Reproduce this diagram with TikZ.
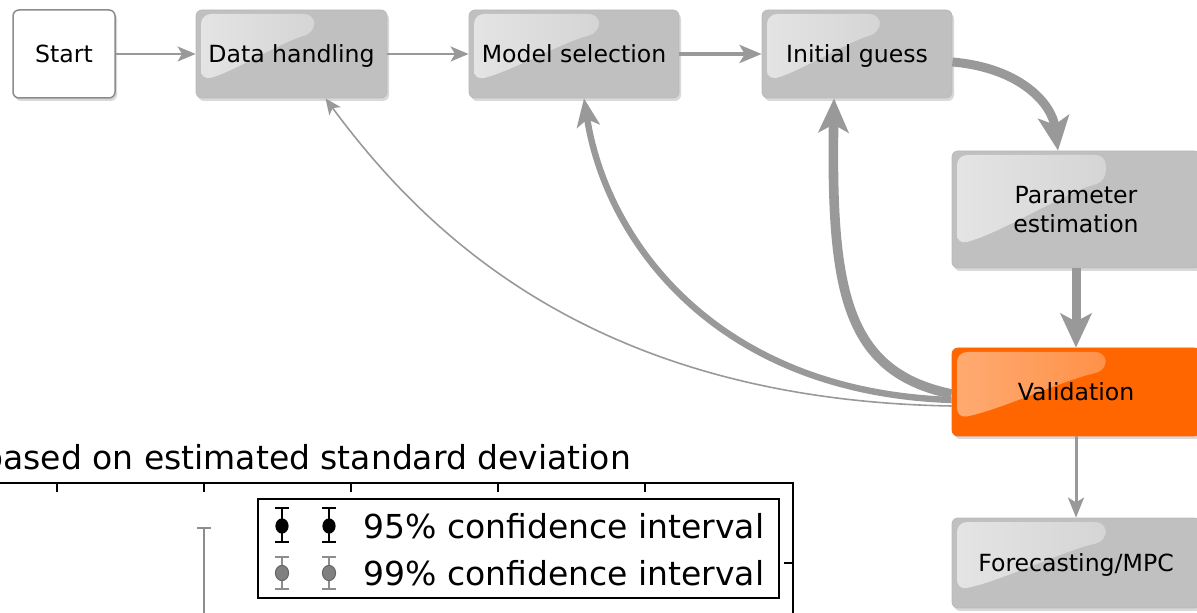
\documentclass[tikz,border=0pt]{standalone}
\usepackage{fontspec}
\setmainfont{DejaVu Sans}
\usepackage{tikz}
\usetikzlibrary{arrows.meta,shadows,calc,positioning}
\definecolor{boxgray}{RGB}{192,192,192}
\definecolor{flowgray}{RGB}{153,153,153}
\definecolor{valorange}{RGB}{255,102,0}
\definecolor{bargray}{RGB}{128,128,128}
\newcommand{\boxfont}{\fontsize{11.8}{14.5}\selectfont}
\newcommand{\plotfont}{\fontsize{16.5}{20}\selectfont}
\tikzset{
    block/.style={rectangle, rounded corners=3pt, fill=boxgray, draw=black!27,
        line width=0.4pt, align=center, inner sep=0pt, font=\boxfont, text depth=0pt,
        drop shadow={shadow xshift=1pt, shadow yshift=-1.5pt, opacity=0.3}},
    startblock/.style={block, fill=white, draw=black!45, line width=0.75pt},
    gloss/.style 2 args={path picture={
        \shade[left color=white!#1, right color=white!#2]
            let \p1=(path picture bounding box.north west),
                \p2=(path picture bounding box.south east),
                \n1={\x2-\x1}, \n2={\y1-\y2} in
            [rounded corners=5pt] (\x1+2.5pt,\y1-2pt) -- ({\x1+0.62*\n1},\y1-2pt)
            -- ({\x1+0.62*\n1},{\y1-0.26*\n2})
            .. controls ({\x1+0.45*\n1},{\y1-0.36*\n2}) and ({\x1+0.2*\n1},{\y1-0.7*\n2})
            .. (\x1+2.5pt,{\y1-0.8*\n2}) -- cycle;}},
    thinflow/.style={draw=flowgray, line width=1pt,
        -{Stealth[length=9pt, width=7.5pt, inset=2.2pt]}},
    medflow/.style={draw=flowgray, line width=2pt,
        -{Stealth[length=11pt, width=9pt, inset=2.6pt]}},
    downflow/.style={draw=flowgray, line width=1.5pt,
        -{Stealth[length=10pt, width=8pt, inset=2.4pt]}},
    thickflow/.style={draw=flowgray, line width=4.5pt,
        -{Stealth[length=17pt, width=15.5pt, inset=4pt]}},
    backthin/.style={draw=flowgray, line width=0.8pt,
        -{Stealth[length=8pt, width=7pt, inset=2pt]}},
    backmed/.style={draw=flowgray, line width=3.2pt,
        -{Stealth[length=14pt, width=11.5pt, inset=3.4pt]}},
    backthick/.style={draw=flowgray, line width=4.8pt,
        -{Stealth[length=17pt, width=15pt, inset=4pt]}},
    errbar/.style={line width=1.1pt},
}
\begin{document}
\begin{tikzpicture}[x=0.5pt, y=-0.5pt]
	\useasboundingbox (0,0) rectangle (1197,613);
	\clip (0,0) rectangle (1197,613);
%
	\node[startblock, minimum width=51pt, minimum height=44pt] (start) at (64,54) {Start};
	\node[block, gloss={58!boxgray}{18!boxgray}, minimum width=95.5pt, minimum height=44pt] (data) at (291.5,54) {Data handling};
	\node[block, gloss={58!boxgray}{18!boxgray}, minimum width=105pt, minimum height=44pt] (model) at (574,54) {Model selection};
	\node[block, gloss={58!boxgray}{18!boxgray}, minimum width=95pt, minimum height=44pt] (guess) at (857,54) {Initial guess};
	\node[block, gloss={58!boxgray}{18!boxgray}, minimum width=124pt, minimum height=58.5pt] (param) at (1076,209.5) {Parameter\\estimation};
	\node[block, gloss={45!valorange}{18!valorange}, fill=valorange, draw=valorange, minimum width=124pt, minimum height=44pt] (valid) at (1076,392) {Validation};
	\node[block, gloss={58!boxgray}{18!boxgray}, minimum width=124pt, minimum height=45pt] (fore) at (1076,563) {Forecasting/MPC};
%
	\draw[thinflow] (start) -- (data);
	\draw[thinflow] (data) -- (model);
	\draw[medflow] (model) -- (guess);
	\draw[thickflow] ([yshift=-4pt]guess.east) .. controls (1022,68) and (1052,105) .. ([xshift=-9pt]param.north);
	\draw[thickflow] (param) -- (valid);
	\draw[downflow] (valid) -- (fore);
%
	\draw[backthick] ([yshift=-1pt]valid.west) .. controls (845,372) and (831,290) .. ([xshift=-11.5pt]guess.south);
	\draw[backmed] ([yshift=-4pt]valid.west) .. controls (715,392) and (606,240) .. ([xshift=5pt]model.south);
	\draw[backthin] ([yshift=-7pt]valid.west) .. controls (600,400) and (430,240) .. ([xshift=17pt]data.south);
%
	% piece of the plot below
	\node[anchor=base west, inner sep=0pt, font=\plotfont] (title) at (-18,470) {based on estimated standard deviation};
	\draw[line width=1pt] (0,483) -- (793,483) -- (793,620);
	\foreach \x in {57,204,351,498,645}
		\draw[line width=0.8pt] (\x,483) -- (\x,492);
	\draw[line width=0.8pt] (793,563) -- (784,563);
	\draw[errbar, bargray!90!white] (204,528) -- (204,620);
	\draw[errbar, bargray!90!white] (197,528) -- (211,528);
%
	\draw[line width=1pt, fill=white] (258,499) rectangle (779,598);
	\foreach \x in {282,329} {
		\draw[errbar] (\x,508) -- (\x,542) (\x-7,508) -- (\x+7,508) (\x-7,542) -- (\x+7,542);
		\fill (\x,526) ellipse [x radius=3.3pt, y radius=3.8pt];
		\draw[errbar, bargray!90!white] (\x,557) -- (\x,589) (\x-7,557) -- (\x+7,557) (\x-7,589) -- (\x+7,589);
		\draw[fill=bargray, draw=black!60, line width=0.5pt] (\x,573) ellipse [x radius=3.3pt, y radius=3.8pt];
	}
	\node[anchor=west, inner sep=0pt, font=\plotfont] (ci95) at (363,526) {95\% confidence interval};
	\node[anchor=west, inner sep=0pt, font=\plotfont] (ci99) at (363,573) {99\% confidence interval};
\end{tikzpicture}
\end{document}
